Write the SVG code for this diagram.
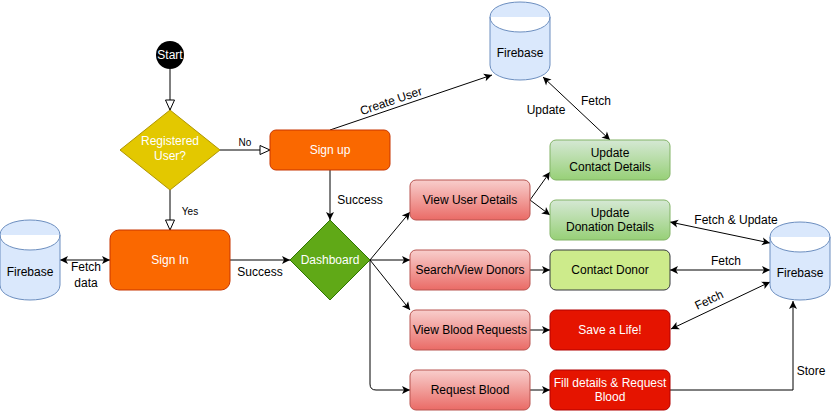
<svg xmlns="http://www.w3.org/2000/svg" width="831" height="411" viewBox="0 0 831 411">
<style>
text{font-family:"Liberation Sans",Arial,sans-serif;font-size:12px;text-anchor:middle;fill:#000}
.w{fill:#fff}
.s{font-size:10px}
.e{fill:none;stroke:#000;stroke-width:1}
.ar{marker-end:url(#a)}
.dbl{marker-start:url(#a);marker-end:url(#a)}
.cyl{fill:#dae8fc;stroke:#6c8ebf;stroke-width:1}
.or{fill:#fa6800;stroke:#C73500}
.rd{fill:url(#gr);stroke:#b85450}
.gn{fill:url(#gg);stroke:#82b366}
.rr{fill:#e51400;stroke:#B20000}
</style>
<defs>
<marker id="a" viewBox="-9 -5 10 10" refX="0" refY="0" markerWidth="10" markerHeight="10" markerUnits="userSpaceOnUse" orient="auto-start-reverse">
<path d="M-8,-4 L0,0 L-8,4 L-6,0 Z" fill="#000"/>
</marker>
<marker id="h" viewBox="-11 -6 12 12" refX="0" refY="0" markerWidth="12" markerHeight="12" markerUnits="userSpaceOnUse" orient="auto">
<path d="M-10,-4.5 L0,0 L-10,4.5 Z" fill="#fff" stroke="#000"/>
</marker>
<linearGradient id="gr" x1="0" y1="0" x2="0" y2="1"><stop offset="0" stop-color="#f8cecc"/><stop offset="1" stop-color="#ea6b66"/></linearGradient>
<linearGradient id="gg" x1="0" y1="0" x2="0" y2="1"><stop offset="0" stop-color="#d5e8d4"/><stop offset="1" stop-color="#97d077"/></linearGradient>
</defs>

<g id="connectors">
<path class="e" d="M170,69 L170,110" marker-end="url(#h)"/>
<path class="e" d="M220,150 L270,150" marker-end="url(#h)"/>
<text class="s" x="245" y="146">No</text>
<path class="e" d="M170,190 L170,230" marker-end="url(#h)"/>
<text class="s" x="190" y="215">Yes</text>
<path class="e dbl" d="M60,260 L110,260"/>
<text x="86" y="271">Fetch</text>
<text x="86" y="287">data</text>
<path class="e ar" d="M230,260 L290,260"/>
<text x="260" y="276">Success</text>
<path class="e ar" d="M330,170 L330,220"/>
<text x="360" y="204">Success</text>
<path class="e ar" d="M330,130 L492,75"/>
<g transform="translate(391,101) rotate(-18.7)"><text x="0" y="4">Create User</text></g>
<path class="e dbl" d="M543,77 L610,140"/>
<text x="546" y="114">Update</text>
<text x="596" y="105">Fetch</text>
<path class="e ar" d="M370,260 L410,212"/>
<path class="e ar" d="M370,260 L410,260"/>
<path class="e ar" d="M370,260 L410,310"/>
<path class="e ar" d="M370,260 L370,384 Q370,390 376,390 L410,390"/>
<path class="e ar" d="M530,200 L550,172"/>
<path class="e ar" d="M530,200 L550,215"/>
<path class="e ar" d="M530,270 L550,270"/>
<path class="e ar" d="M530,330 L550,330"/>
<path class="e ar" d="M530,390 L550,390"/>
<path class="e dbl" d="M670,222 L770,243"/>
<text x="736" y="224">Fetch &amp; Update</text>
<path class="e dbl" d="M670,270 L770,270"/>
<text x="726" y="265">Fetch</text>
<path class="e dbl" d="M671,329 L770,282"/>
<g transform="translate(709,300) rotate(-25.4)"><text x="0" y="4">Fetch</text></g>
<path class="e ar" d="M670,390 L793,390 L793,301"/>
<text x="811" y="375">Store</text>
</g>

<g id="start"><circle cx="170" cy="55" r="14" fill="#000"/><text class="w" x="170" y="59">Start</text></g>
<g id="registered"><path d="M170,110 L220,150 L170,190 L120,150 Z" fill="#e3c800" stroke="#B09500"/><text class="w" x="170" y="145">Registered</text><text class="w" x="170" y="160">User?</text></g>
<g id="signup"><rect class="or" x="270" y="130" width="120" height="40" rx="6"/><text class="w" x="330" y="154">Sign up</text></g>
<g id="signin"><rect class="or" x="110" y="230" width="120" height="60" rx="9"/><text class="w" x="170" y="264">Sign In</text></g>
<g id="dashboard"><path d="M330,220 L370,260 L330,300 L290,260 Z" fill="#60a917" stroke="#2D7600"/><text class="w" x="330" y="264">Dashboard</text></g>
<g id="firebase-left"><path class="cyl" d="M0,235 C0,215 60,215 60,235 L60,285 C60,305 0,305 0,285 Z M0,235 C0,255 60,255 60,235"/><text x="30" y="276">Firebase</text></g>
<g id="firebase-top"><path class="cyl" d="M490,17 C490,-3 550,-3 550,17 L550,65 C550,85 490,85 490,65 Z M490,17 C490,37 550,37 550,17"/><text x="520" y="57">Firebase</text></g>
<g id="firebase-right"><path class="cyl" d="M770,237 C770,217 830,217 830,237 L830,285 C830,305 770,305 770,285 Z M770,237 C770,257 830,257 830,237"/><text x="800" y="277">Firebase</text></g>
<g id="viewuser"><rect class="rd" x="410" y="180" width="120" height="40" rx="6"/><text x="470" y="204">View User Details</text></g>
<g id="search"><rect class="rd" x="410" y="250" width="120" height="40" rx="6"/><text x="470" y="274">Search/View Donors</text></g>
<g id="viewblood"><rect class="rd" x="410" y="310" width="120" height="40" rx="6"/><text x="470" y="334">View Blood Requests</text></g>
<g id="requestblood"><rect class="rd" x="410" y="370" width="120" height="40" rx="6"/><text x="470" y="394">Request Blood</text></g>
<g id="updatecontact"><rect class="gn" x="550" y="140" width="120" height="40" rx="6"/><text x="610" y="157">Update</text><text x="610" y="171">Contact Details</text></g>
<g id="updatedonation"><rect class="gn" x="550" y="200" width="120" height="40" rx="6"/><text x="610" y="217">Update</text><text x="610" y="231">Donation Details</text></g>
<g id="contactdonor"><rect x="550" y="250" width="120" height="40" rx="6" fill="#cdeb8b" stroke="#36393d"/><text x="610" y="274">Contact Donor</text></g>
<g id="savelife"><rect class="rr" x="550" y="310" width="120" height="40" rx="6"/><text class="w" x="610" y="334">Save a Life!</text></g>
<g id="filldetails"><rect class="rr" x="550" y="370" width="120" height="40" rx="6"/><text class="w" x="610" y="387">Fill details &amp; Request</text><text class="w" x="610" y="401">Blood</text></g>
</svg>
